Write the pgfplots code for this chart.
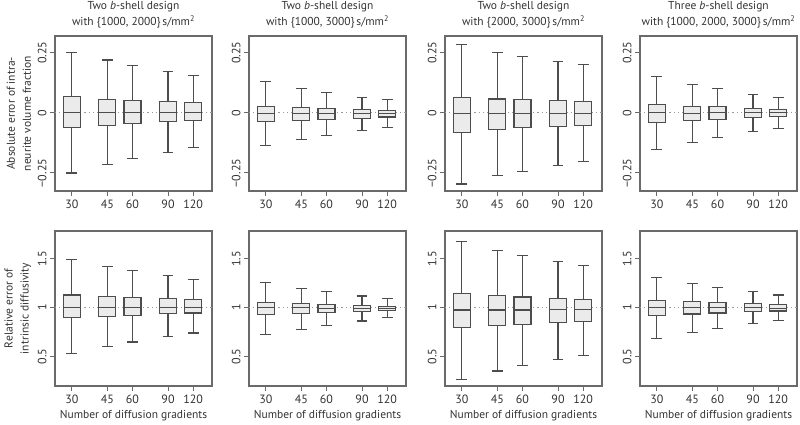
\documentclass[border=0pt]{standalone}
\usepackage{fontspec}
\setmainfont{PT Sans}
\usepackage{pgfplots}
\pgfplotsset{compat=1.18}
\usepgfplotslibrary{statistics}

\definecolor{frame}{HTML}{6A6A6A}
\definecolor{boxline}{HTML}{4D4D4D}
\definecolor{boxfill}{HTML}{EBEBEB}
\definecolor{txt}{HTML}{333333}
\definecolor{refline}{HTML}{9A9A9A}

% one prepared box: position (ln of gradient count), lower whisker, lower quartile, median, upper quartile, upper whisker
\newcommand{\bx}[6]{%
  \addplot[boxline, line width=1.1pt,
    boxplot prepared={draw position=#1, lower whisker=#2, lower quartile=#3,
      median=#4, upper quartile=#5, upper whisker=#6,
      box extend=0.194, whisker extend=0.125,
      every box/.style={fill=boxfill}}] coordinates {};}

\pgfplotsset{
  panel/.style={
    scale only axis, width=157pt, height=155pt,
    xmin=3.208, xmax=5.003,
    boxplot/draw direction=y,
    xtick={3.401,3.807,4.094,4.500,4.787},
    xticklabels={30,45,60,90,120},
    tick align=outside, xtick pos=bottom, ytick pos=left,
    major tick length=5pt,
    axis line style={frame, line width=1.3pt},
    every tick/.style={frame, line width=1pt},
    tick label style={font=\fontsize{12}{13}\selectfont, text=txt},
    yticklabel style={rotate=90, anchor=south},
    label style={font=\fontsize{11.5}{16}\selectfont, text=txt, align=center},
    title style={font=\fontsize{11.5}{16}\selectfont, text=txt, align=center, yshift=-2pt},
    clip=false,
  },
  toprow/.style={ymin=-0.325, ymax=0.32, ytick={-0.25,0,0.25}, yticklabels={−0.25,0,0.25}},
  botrow/.style={ymin=0.196, ymax=1.787, ytick={0.5,1,1.5}, yticklabels={0.5,1,1.5},
    xlabel={Number of diffusion gradients}},
}

\begin{document}
\begin{tikzpicture}
\useasboundingbox (0,0) rectangle (800pt,-425pt);

% ---- top row: absolute error of intra-neurite volume fraction
\begin{axis}[panel, toprow, at={(55pt,-36pt)}, anchor=north west,
  title={Two \textit{b}-shell design\\with \{1000, 2000\}\,s/mm\textsuperscript{2}},
  ylabel={Absolute error of intra-\\neurite volume fraction}]
  \addplot[refline, line width=1pt, dash pattern=on 1.2pt off 3pt] coordinates {(3.208,0) (5.003,0)};
  \bx{3.401}{-0.25}{-0.061}{0}{0.067}{0.253}
  \bx{3.807}{-0.214}{-0.051}{0}{0.057}{0.22}
  \bx{4.094}{-0.19}{-0.045}{0}{0.053}{0.199}
  \bx{4.500}{-0.164}{-0.0375}{0}{0.046}{0.172}
  \bx{4.787}{-0.145}{-0.032}{0}{0.042}{0.154}
\end{axis}

\begin{axis}[panel, toprow, at={(249pt,-36pt)}, anchor=north west,
  title={Two \textit{b}-shell design\\with \{1000, 3000\}\,s/mm\textsuperscript{2}}]
  \addplot[refline, line width=1pt, dash pattern=on 1.2pt off 3pt] coordinates {(3.208,0) (5.003,0)};
  \bx{3.401}{-0.136}{-0.0375}{-0.004}{0.026}{0.129}
  \bx{3.807}{-0.11}{-0.03}{-0.004}{0.022}{0.103}
  \bx{4.094}{-0.094}{-0.026}{-0.004}{0.018}{0.086}
  \bx{4.500}{-0.074}{-0.022}{-0.004}{0.014}{0.065}
  \bx{4.787}{-0.06}{-0.017}{-0.003}{0.01}{0.054}
\end{axis}

\begin{axis}[panel, toprow, at={(445pt,-36pt)}, anchor=north west,
  title={Two \textit{b}-shell design\\with \{2000, 3000\}\,s/mm\textsuperscript{2}}]
  \addplot[refline, line width=1pt, dash pattern=on 1.2pt off 3pt] coordinates {(3.208,0) (5.003,0)};
  \bx{3.401}{-0.296}{-0.08}{-0.004}{0.065}{0.286}
  \bx{3.807}{-0.262}{-0.07}{-0.004}{0.058}{0.253}
  \bx{4.094}{-0.243}{-0.0625}{-0.004}{0.054}{0.235}
  \bx{4.500}{-0.22}{-0.057}{-0.004}{0.051}{0.214}
  \bx{4.787}{-0.204}{-0.053}{-0.003}{0.049}{0.201}
\end{axis}

\begin{axis}[panel, toprow, at={(640pt,-36pt)}, anchor=north west,
  title={Three \textit{b}-shell design\\with \{1000, 2000, 3000\}\,s/mm\textsuperscript{2}}]
  \addplot[refline, line width=1pt, dash pattern=on 1.2pt off 3pt] coordinates {(3.208,0) (5.003,0)};
  \bx{3.401}{-0.154}{-0.04}{0}{0.036}{0.151}
  \bx{3.807}{-0.122}{-0.032}{-0.003}{0.028}{0.119}
  \bx{4.094}{-0.101}{-0.026}{0}{0.025}{0.103}
  \bx{4.500}{-0.079}{-0.019}{0}{0.019}{0.078}
  \bx{4.787}{-0.064}{-0.015}{0}{0.015}{0.0625}
\end{axis}

% ---- bottom row: relative error of intrinsic diffusivity
\begin{axis}[panel, botrow, at={(55pt,-231pt)}, anchor=north west,
  ylabel={Relative error of\\intrinsic diffusivity}]
  \addplot[refline, line width=1pt, dash pattern=on 1.2pt off 3pt] coordinates {(3.208,1) (5.003,1)};
  \bx{3.401}{0.53}{0.897}{1.0}{1.13}{1.49}
  \bx{3.807}{0.60}{0.908}{1.0}{1.113}{1.42}
  \bx{4.094}{0.648}{0.92}{1.0}{1.10}{1.38}
  \bx{4.500}{0.70}{0.94}{1.0}{1.09}{1.33}
  \bx{4.787}{0.74}{0.945}{1.0}{1.08}{1.29}
\end{axis}

\begin{axis}[panel, botrow, at={(249pt,-231pt)}, anchor=north west]
  \addplot[refline, line width=1pt, dash pattern=on 1.2pt off 3pt] coordinates {(3.208,1) (5.003,1)};
  \bx{3.401}{0.727}{0.93}{1.0}{1.055}{1.257}
  \bx{3.807}{0.78}{0.94}{1.0}{1.04}{1.20}
  \bx{4.094}{0.815}{0.95}{0.995}{1.035}{1.168}
  \bx{4.500}{0.863}{0.963}{0.993}{1.025}{1.12}
  \bx{4.787}{0.895}{0.97}{0.987}{1.014}{1.096}
\end{axis}

\begin{axis}[panel, botrow, at={(445pt,-231pt)}, anchor=north west]
  \addplot[refline, line width=1pt, dash pattern=on 1.2pt off 3pt] coordinates {(3.208,1) (5.003,1)};
  \bx{3.401}{0.265}{0.80}{0.976}{1.148}{1.68}
  \bx{3.807}{0.35}{0.815}{0.976}{1.125}{1.59}
  \bx{4.094}{0.405}{0.83}{0.976}{1.11}{1.54}
  \bx{4.500}{0.47}{0.846}{0.98}{1.097}{1.47}
  \bx{4.787}{0.51}{0.857}{0.98}{1.086}{1.43}
\end{axis}

\begin{axis}[panel, botrow, at={(640pt,-231pt)}, anchor=north west]
  \addplot[refline, line width=1pt, dash pattern=on 1.2pt off 3pt] coordinates {(3.208,1) (5.003,1)};
  \bx{3.401}{0.68}{0.918}{1.0}{1.076}{1.31}
  \bx{3.807}{0.743}{0.935}{1.0}{1.06}{1.25}
  \bx{4.094}{0.785}{0.945}{1.0}{1.05}{1.21}
  \bx{4.500}{0.833}{0.96}{1.0}{1.04}{1.165}
  \bx{4.787}{0.866}{0.966}{0.995}{1.03}{1.13}
\end{axis}
\end{tikzpicture}
\end{document}
